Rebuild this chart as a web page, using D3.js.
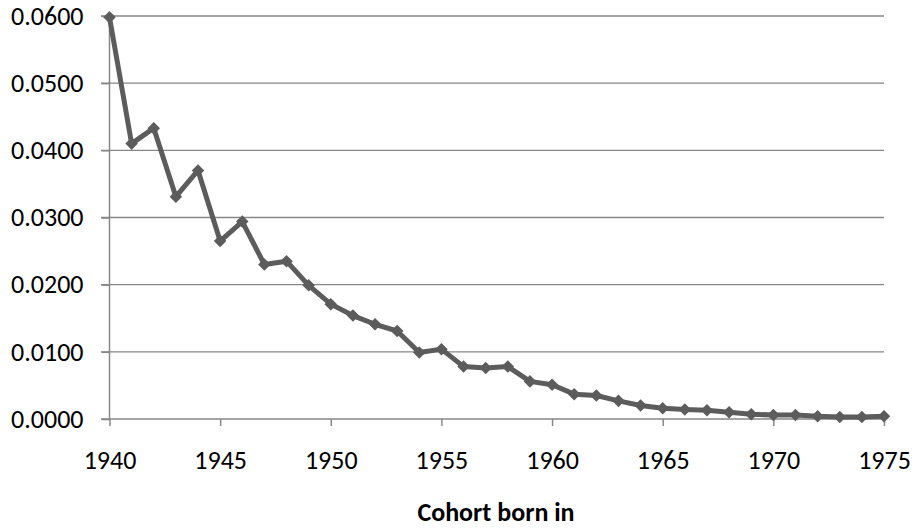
<!DOCTYPE html>
<html><head><meta charset="utf-8">
<script src="https://cdn.jsdelivr.net/npm/d3@7"></script>
<style>body{margin:0;background:#fff;}svg{display:block;font-family:Carlito,Calibri,Lato,"Liberation Sans",sans-serif;}</style>
</head><body><svg id="c" width="915" height="529"></svg>
<script>
const years = d3.range(1940, 1976);
const values = [0.0598,0.0410,0.0433,0.0331,0.0370,0.0265,0.0294,0.0230,0.0235,0.0199,
0.0171,0.0154,0.0141,0.0131,0.0099,0.0104,0.0078,0.0076,0.0078,0.0056,
0.0051,0.0037,0.0035,0.0027,0.0020,0.0016,0.0014,0.0013,0.0010,0.0007,
0.0006,0.0006,0.0004,0.0003,0.0003,0.0004];
const yTicks = [0,0.01,0.02,0.03,0.04,0.05,0.06];
const xTicks = [1940,1945,1950,1955,1960,1965,1970,1975];
const xTitle = "Cohort born in";

const FONT = "Carlito,Calibri,Lato,'Liberation Sans',sans-serif";
const svg = d3.select("#c");
const x = d3.scaleLinear().domain([1940,1975]).range([109.5,884]);
const y = d3.scaleLinear().domain([0,0.06]).range([419,16]);

// gridlines
svg.append("g").selectAll("line").data(yTicks.filter(d=>d>0)).join("line")
  .attr("x1",101).attr("x2",884).attr("y1",d=>y(d)).attr("y2",d=>y(d))
  .attr("stroke","#878787").attr("stroke-width",1.3);

const yAxis = svg.append("g").attr("transform","translate(109.5,0)")
  .call(d3.axisLeft(y).tickValues(yTicks).tickFormat(d3.format(".4f")).tickSize(8).tickPadding(18));
const xAxis = svg.append("g").attr("transform","translate(0,419)")
  .call(d3.axisBottom(x).tickValues(xTicks).tickFormat(d3.format("d")).tickSize(7).tickPadding(25));
[yAxis,xAxis].forEach(a=>{
  a.attr("font-size",26).attr("font-family",FONT);
  a.select(".domain").attr("stroke","#878787").attr("stroke-width",1.5);
  a.selectAll(".tick line").attr("stroke","#878787").attr("stroke-width",1.5);
  a.selectAll("text").attr("fill","#000");
});
yAxis.select(".domain").attr("d","M0,419V16");
xAxis.select(".domain").attr("d","M101,0H884");

const data = years.map((yr,i)=>({yr, v: values[i]}));
svg.append("path").datum(data)
  .attr("d", d3.line().x(d=>x(d.yr)).y(d=>y(d.v)))
  .attr("fill","none").attr("stroke","#5c5c5c").attr("stroke-width",5).attr("stroke-linejoin","round");
svg.append("g").selectAll("path").data(data).join("path")
  .attr("transform",d=>`translate(${x(d.yr)},${y(d.v)})`)
  .attr("d", d3.symbol(d3.symbolDiamond2 || d3.symbolDiamond, 100)())
  .attr("fill","#5c5c5c");

svg.append("text").attr("x",496).attr("y",521).attr("text-anchor","middle")
  .attr("font-family",FONT).attr("font-size",26).attr("font-weight","bold").text(xTitle);
</script></body></html>
